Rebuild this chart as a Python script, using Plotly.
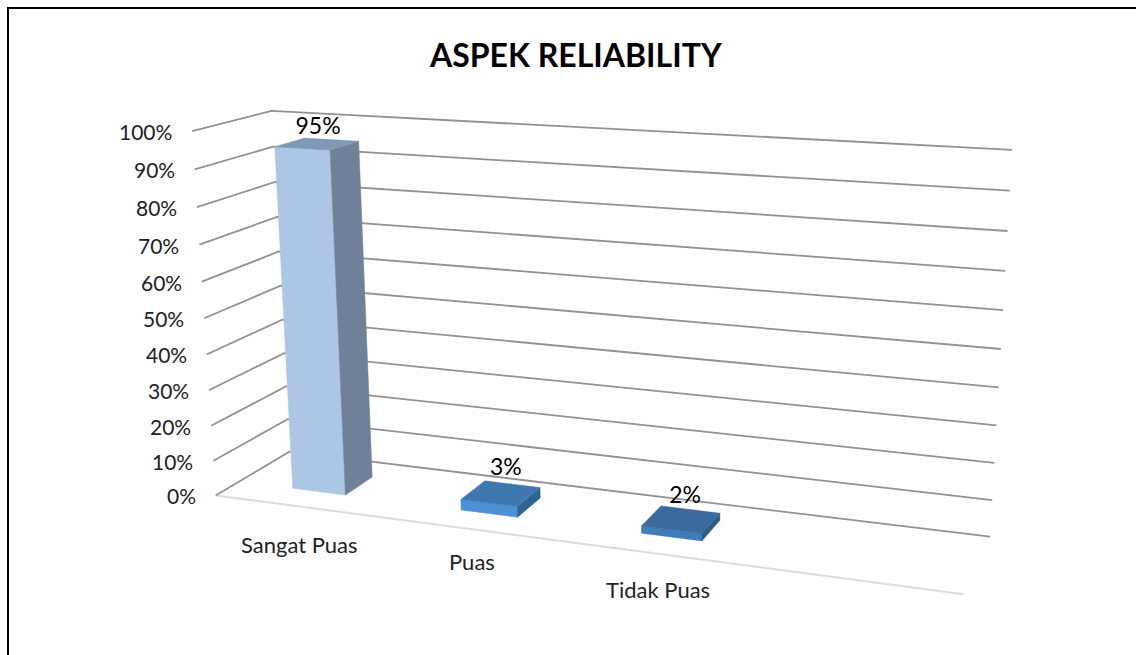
import numpy as np
import plotly.graph_objects as go

# Chart content
title_text = "ASPEK RELIABILITY"
categories = ["Sangat Puas", "Puas", "Tidak Puas"]
values = [95, 3, 2]
axis_ticks = [0, 10, 20, 30, 40, 50, 60, 70, 80, 90, 100]

# Box geometry, in fractions of the plot cube
SLOTS = 4
BAR_START = 0.083
BAR_WIDTH = 0.08
BAR_DEPTH = (0.305, 0.70)

# Face colours per bar: front, side, top
FACE_COLORS = [
    ("#adc6e5", "#6e8199", "#7e98b8"),
    ("#4d90d6", "#2f6394", "#3f78b0"),
    ("#3f7db8", "#2e5a85", "#3b6a9c"),
]
GRID_COLOR = "#929292"
FLOOR_COLOR = "#dcdcdc"
FONT = "Lato, sans-serif"

# Text anchors for the category names and the nudge of each value label
CATEGORY_ANCHORS = [(299, 544), (472, 561), (658, 589)]
VALUE_NUDGE = [(1, -16), (5, -24), (4, -22)]

# Camera calibration: cube corners (u, v, w) and where they land on the page
CALIBRATION = [
    ((0, 0, 0), (215, 495)), ((0, 1, 0), (192, 131)),
    ((0, 0, 1), (290, 452)), ((0, 1, 1), (271, 110.5)),
    ((1, 0, 1), (990, 537)), ((1, 1, 1), (1012, 150)),
    ((1, 0, 0), (964, 594)), ((0, .9, 0), (195, 170)),
    ((1, .9, 1), (1010, 190.5)), ((1, .1, 1), (992, 500)),
]


def fit_camera(points):
    rows = []
    for (u, v, w), (x, y) in points:
        rows.append([u, v, w, 1, 0, 0, 0, 0, -x * u, -x * v, -x * w, -x])
        rows.append([0, 0, 0, 0, u, v, w, 1, -y * u, -y * v, -y * w, -y])
    return np.linalg.svd(np.array(rows, float))[2][-1].reshape(3, 4)


CAMERA = fit_camera(CALIBRATION)


def project(u, v, w):
    h = CAMERA @ np.array([u, v, w, 1.0])
    return h[0] / h[2], h[1] / h[2]


def polyline(corners):
    xy = [project(*c) for c in corners]
    return [p[0] for p in xy], [p[1] for p in xy]


fig = go.Figure()


def add_line(corners, color, width):
    x, y = polyline(corners)
    fig.add_trace(go.Scatter(x=x, y=y, mode="lines", hoverinfo="skip",
                             line=dict(color=color, width=width)))


def add_face(corners, color):
    x, y = polyline(corners + corners[:1])
    fig.add_trace(go.Scatter(x=x, y=y, mode="lines", fill="toself",
                             fillcolor=color, hoverinfo="skip",
                             line=dict(color=color, width=0.5)))


# Floor front edge, then the gridlines folding from the side wall to the back wall
add_line([(0, 0, 0), (1, 0, 0)], FLOOR_COLOR, 2)
for t in axis_ticks:
    v = t / 100
    add_line([(0, v, 0), (0, v, 1), (1, v, 1)], GRID_COLOR, 1.8)

# Bars
w0, w1 = BAR_DEPTH
for i, value in enumerate(values):
    u0 = i / SLOTS + BAR_START
    u1 = u0 + BAR_WIDTH
    v = value / 100
    front, side, top = FACE_COLORS[i]
    add_face([(u0, 0, w0), (u1, 0, w0), (u1, v, w0), (u0, v, w0)], front)
    add_face([(u1, 0, w0), (u1, 0, w1), (u1, v, w1), (u1, v, w0)], side)
    add_face([(u0, v, w0), (u1, v, w0), (u1, v, w1), (u0, v, w1)], top)

# Value labels above each bar
label_xy = []
for i, value in enumerate(values):
    u = i / SLOTS + BAR_START + BAR_WIDTH / 2
    px, py = project(u, value / 100, sum(BAR_DEPTH) / 2)
    label_xy.append((px + VALUE_NUDGE[i][0], py + VALUE_NUDGE[i][1]))
fig.add_trace(go.Scatter(
    x=[p[0] for p in label_xy], y=[p[1] for p in label_xy], mode="text",
    text=[f"{value}%" for value in values], hoverinfo="skip",
    textposition="middle center",
    textfont=dict(family=FONT, size=23, color="#000000")))

# Value axis labels, right-aligned just off the front end of each gridline
for t in axis_ticks:
    px, py = project(0, t / 100, 0)
    fig.add_annotation(x=px - 18, y=py + 0.5, text=f"{t}%", showarrow=False,
                       xanchor="right", yanchor="middle",
                       font=dict(family=FONT, size=21, color="#222222"))

# Category labels
for name, (ax, ay) in zip(categories, CATEGORY_ANCHORS):
    fig.add_annotation(x=ax, y=ay, text=name, showarrow=False,
                       xanchor="center", yanchor="middle",
                       font=dict(family=FONT, size=22, color="#222222"))

# Title
fig.add_annotation(x=575, y=54, text=f"<b>{title_text}</b>", showarrow=False,
                   xanchor="center", yanchor="middle",
                   font=dict(family=FONT, size=32, color="#000000"))

# Frame around the chart area: the top and left edges are visible on the page
frame = dict(type="line", xref="x", yref="y", line=dict(color="#000000", width=2))
fig.add_shape(x0=7, x1=1136, y0=8, y1=8, **frame)
fig.add_shape(x0=8, x1=8, y0=7, y1=655, **frame)

fig.update_layout(
    width=1136, height=655, autosize=False, showlegend=False,
    margin=dict(l=0, r=0, t=0, b=0),
    paper_bgcolor="#ffffff", plot_bgcolor="#ffffff",
    xaxis=dict(range=[0, 1136], visible=False, fixedrange=True),
    yaxis=dict(range=[655, 0], visible=False, fixedrange=True),
)

fig.write_html("out.html", config=dict(displayModeBar=False))
